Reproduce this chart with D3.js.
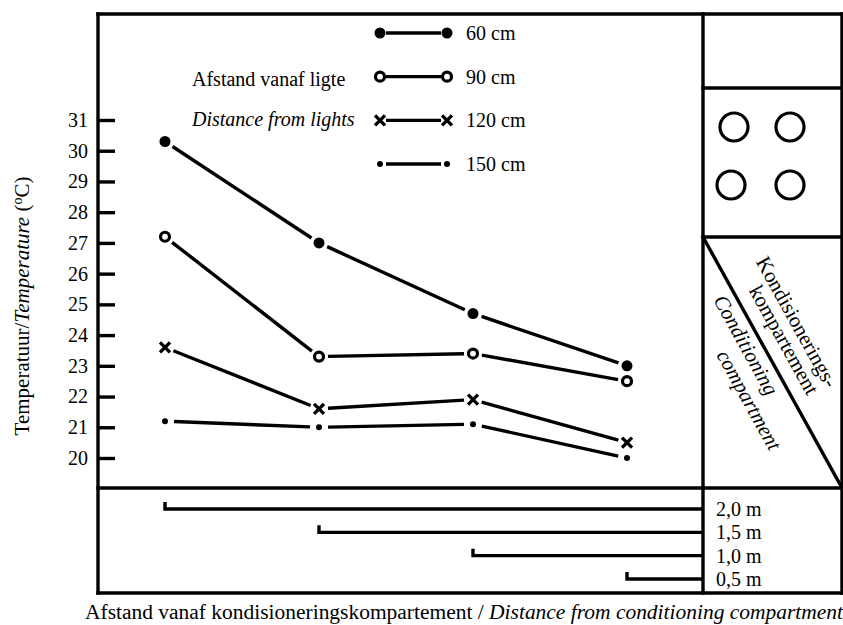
<!DOCTYPE html>
<html>
<head>
<meta charset="utf-8">
<script src="https://cdn.jsdelivr.net/npm/d3@7"></script>
<style>
  body { margin: 0; background: #fff; }
  svg { display: block; font-family: "Liberation Serif", "DejaVu Serif", serif; }
</style>
</head>
<body>
<script>
// data
var distances = [2.0, 1.5, 1.0, 0.5];
var distanceLabels = ["2,0 m", "1,5 m", "1,0 m", "0,5 m"];
var seriesNames = ["60 cm", "90 cm", "120 cm", "150 cm"];
var temp60 = [30.3, 27.0, 24.7, 23.0];
var temp90 = [27.2, 23.3, 23.4, 22.5];
var temp120 = [23.6, 21.6, 21.9, 20.5];
var temp150 = [21.2, 21.0, 21.1, 20.0];
var yTicks = [20, 21, 22, 23, 24, 25, 26, 27, 28, 29, 30, 31];

var series = [
  { name: seriesNames[0], values: temp60, mark: "dot" },
  { name: seriesNames[1], values: temp90, mark: "ring" },
  { name: seriesNames[2], values: temp120, mark: "cross" },
  { name: seriesNames[3], values: temp150, mark: "small" }
];

var box = { left: 98, top: 14, right: 842, bottom: 593, split: 488, panel: 703 };
var lw = 3.4;

var svg = d3.select("body").append("svg")
  .attr("width", 843)
  .attr("height", 625);

var x = d3.scaleLinear().domain([0.5, 2.0]).range([627, 165]);
var y = d3.scaleLinear().domain([20, 31]).range([458, 120]);

// frame
var frameLines = [
  [box.left, box.top, box.right, box.top],
  [box.left, box.top, box.left, box.bottom],
  [box.left, box.bottom, box.right, box.bottom],
  [box.left, box.split, box.right, box.split],
  [box.panel, box.top, box.panel, box.bottom],
  [box.right, box.top, box.right, box.bottom],
  [box.panel, 88, box.right, 88],
  [box.panel, 237, box.right, 237],
  [box.panel, 237, box.right, box.split]
];
svg.append("g").selectAll("line").data(frameLines).enter().append("line")
  .attr("x1", function(d) { return d[0]; })
  .attr("y1", function(d) { return d[1]; })
  .attr("x2", function(d) { return d[2]; })
  .attr("y2", function(d) { return d[3]; })
  .attr("stroke", "#000")
  .attr("stroke-width", lw)
  .attr("stroke-linecap", "square");

// y axis, ticks pointing inward
var yAxis = svg.append("g")
  .attr("transform", "translate(" + box.left + ",0)")
  .call(d3.axisLeft(y).tickValues(yTicks).tickSizeInner(-17).tickSizeOuter(0).tickPadding(10));
yAxis.select(".domain").remove();
yAxis.selectAll(".tick line").attr("stroke-width", lw);
yAxis.selectAll(".tick text")
  .attr("font-family", "Liberation Serif, serif")
  .attr("font-size", 20)
  .attr("fill", "#000");

var yTitle = svg.append("text")
  .attr("transform", "translate(29,306) rotate(-90)")
  .attr("text-anchor", "middle")
  .attr("font-size", 21);
yTitle.append("tspan").text("Temperatuur/");
yTitle.append("tspan").attr("font-style", "italic").text("Temperature");
yTitle.append("tspan").text(" (");
yTitle.append("tspan").attr("font-size", 14).attr("dy", -7).text("o");
yTitle.append("tspan").attr("dy", 7).text("C)");

// markers
function drawMark(g, kind, px, py) {
  if (kind === "dot") {
    g.append("circle").attr("cx", px).attr("cy", py).attr("r", 5.5).attr("fill", "#000");
  } else if (kind === "ring") {
    g.append("circle").attr("cx", px).attr("cy", py).attr("r", 4.5)
      .attr("fill", "#fff").attr("stroke", "#000").attr("stroke-width", 3.2);
  } else if (kind === "cross") {
    g.append("path")
      .attr("d", "M" + (px - 5) + "," + (py - 5) + "L" + (px + 5) + "," + (py + 5) +
                 "M" + (px - 5) + "," + (py + 5) + "L" + (px + 5) + "," + (py - 5))
      .attr("stroke", "#000").attr("stroke-width", 3.4);
  } else {
    g.append("circle").attr("cx", px).attr("cy", py).attr("r", 3).attr("fill", "#000");
  }
}

function gappedSegment(x1, y1, x2, y2, gap) {
  var dx = x2 - x1, dy = y2 - y1, len = Math.sqrt(dx * dx + dy * dy);
  var ux = dx / len, uy = dy / len;
  return [x1 + ux * gap, y1 + uy * gap, x2 - ux * gap, y2 - uy * gap];
}

var plot = svg.append("g");
series.forEach(function(s) {
  var g = plot.append("g");
  var pts = s.values.map(function(v, i) { return [x(distances[i]), y(v)]; });
  for (var i = 0; i < pts.length - 1; i++) {
    var seg = gappedSegment(pts[i][0], pts[i][1], pts[i + 1][0], pts[i + 1][1], 9);
    g.append("line")
      .attr("x1", seg[0]).attr("y1", seg[1]).attr("x2", seg[2]).attr("y2", seg[3])
      .attr("stroke", "#000").attr("stroke-width", lw);
  }
  pts.forEach(function(p) { drawMark(g, s.mark, p[0], p[1]); });
});

// legend
var legendY = d3.scalePoint().domain(seriesNames).range([33, 164]);
var legend = svg.append("g");
series.forEach(function(s) {
  var ly = legendY(s.name);
  var g = legend.append("g");
  g.append("line").attr("x1", 386).attr("x2", 441).attr("y1", ly).attr("y2", ly)
    .attr("stroke", "#000").attr("stroke-width", lw);
  drawMark(g, s.mark, 380, ly);
  drawMark(g, s.mark, 447, ly);
  g.append("text").attr("x", 466).attr("y", ly + 7).attr("font-size", 20).text(s.name);
});
legend.append("text").attr("x", 192).attr("y", 86).attr("font-size", 20).text("Afstand vanaf ligte");
legend.append("text").attr("x", 192).attr("y", 126).attr("font-size", 20)
  .attr("font-style", "italic").text("Distance from lights");

// lights in the side panel
var lightPos = [[734, 127], [790, 127], [731, 185], [790, 185]];
svg.append("g").selectAll("circle").data(lightPos).enter().append("circle")
  .attr("cx", function(d) { return d[0]; })
  .attr("cy", function(d) { return d[1]; })
  .attr("r", 14)
  .attr("fill", "none")
  .attr("stroke", "#000")
  .attr("stroke-width", 3.2);

// compartment labels along the diagonal
var ang = Math.atan2(box.split - 237, box.right - box.panel) * 180 / Math.PI;
var diagText = [
  { t: "Kondisionerings-", cx: 797, cy: 322, it: false },
  { t: "kompartement", cx: 784, cy: 340, it: false },
  { t: "Conditioning", cx: 746, cy: 345, it: true },
  { t: "compartment", cx: 749, cy: 400, it: true }
];
svg.append("g").selectAll("text").data(diagText).enter().append("text")
  .attr("transform", function(d) { return "translate(" + d.cx + "," + d.cy + ") rotate(" + ang + ")"; })
  .attr("text-anchor", "middle")
  .attr("dominant-baseline", "central")
  .attr("font-size", 21)
  .attr("font-style", function(d) { return d.it ? "italic" : "normal"; })
  .text(function(d) { return d.t; });

// distance brackets
var by = d3.scalePoint().domain(distances).range([509, 579]);
var brackets = svg.append("g");
distances.forEach(function(d, i) {
  var yy = by(d);
  brackets.append("path")
    .attr("d", "M" + x(d) + "," + (yy - 7) + "V" + yy + "H" + box.panel)
    .attr("fill", "none").attr("stroke", "#000").attr("stroke-width", lw);
  brackets.append("text").attr("x", 716).attr("y", yy + 7).attr("font-size", 20)
    .text(distanceLabels[i]);
});

var xTitle = svg.append("text")
  .attr("x", 85).attr("y", 619)
  .attr("font-size", 20)
  .attr("textLength", 758)
  .attr("lengthAdjust", "spacingAndGlyphs");
xTitle.append("tspan").text("Afstand vanaf kondisioneringskompartement / ");
xTitle.append("tspan").attr("font-style", "italic").text("Distance from conditioning compartment");
</script>
</body>
</html>
